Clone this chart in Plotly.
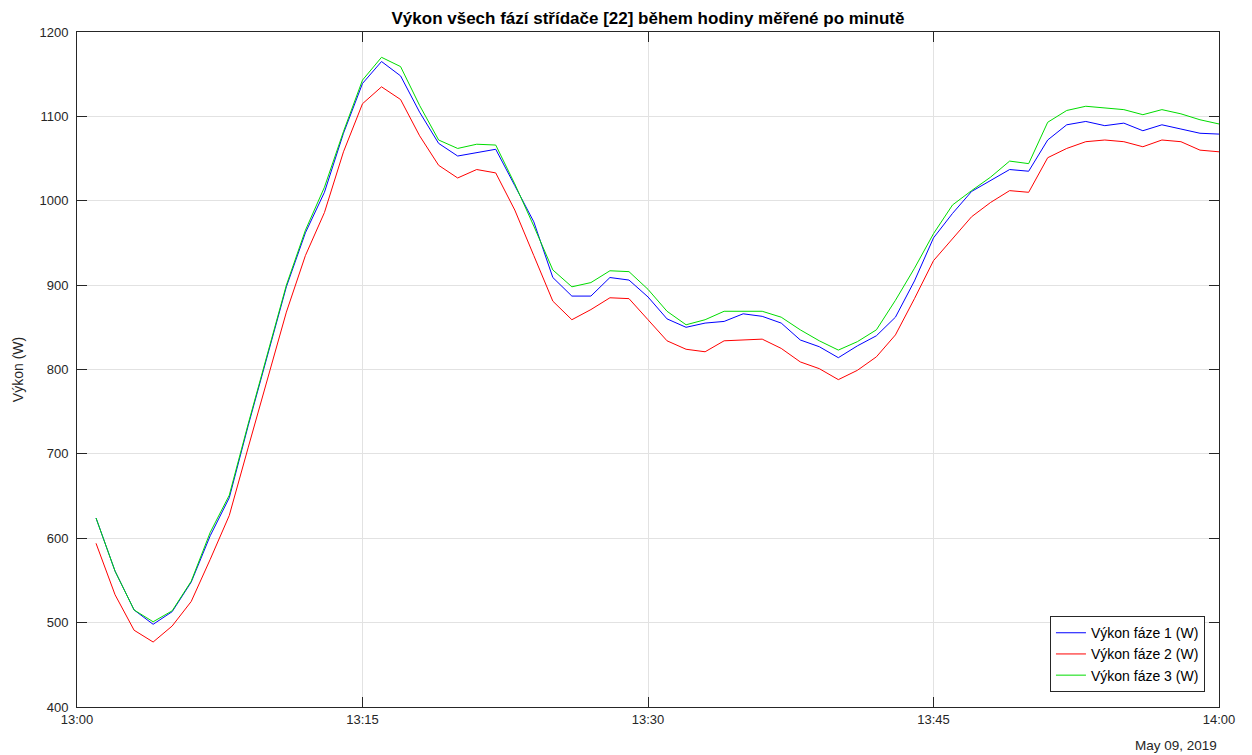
import plotly.graph_objects as go

minutes = [
    "13:01", "13:02", "13:03", "13:04", "13:05", "13:06", "13:07", "13:08", "13:09", "13:10",
    "13:11", "13:12", "13:13", "13:14", "13:15", "13:16", "13:17", "13:18", "13:19", "13:20",
    "13:21", "13:22", "13:23", "13:24", "13:25", "13:26", "13:27", "13:28", "13:29", "13:30",
    "13:31", "13:32", "13:33", "13:34", "13:35", "13:36", "13:37", "13:38", "13:39", "13:40",
    "13:41", "13:42", "13:43", "13:44", "13:45", "13:46", "13:47", "13:48", "13:49", "13:50",
    "13:51", "13:52", "13:53", "13:54", "13:55", "13:56", "13:57", "13:58", "13:59", "14:00",
]
day = "2019-05-09"

faze1 = [624, 561, 515, 498, 513, 548, 603, 648, 734, 816,
         898, 962, 1010, 1080, 1139, 1165, 1148, 1105, 1068, 1053,
         1057, 1061, 1018, 975, 909, 887, 887, 909, 906, 886,
         860, 850, 855, 857, 866, 863, 855, 835, 827, 814,
         828, 840, 862, 905, 956, 985, 1011, 1024, 1037, 1035,
         1072, 1090, 1094, 1089, 1092, 1083, 1090, 1085, 1080, 1079]
faze2 = [594, 533, 491, 477, 496, 525, 575, 627, 708, 788,
         868, 935, 986, 1058, 1115, 1135, 1120, 1077, 1042, 1027,
         1037, 1033, 989, 935, 881, 859, 871, 885, 884, 859,
         834, 824, 821, 834, 835, 836, 825, 809, 801, 788,
         799, 815, 841, 884, 929, 955, 981, 998, 1012, 1010,
         1051, 1062, 1070, 1072, 1070, 1064, 1072, 1070, 1060, 1058]
faze3 = [624, 561, 515, 501, 514, 549, 607, 651, 736, 817,
         900, 965, 1016, 1082, 1143, 1170, 1159, 1113, 1072, 1062,
         1067, 1066, 1020, 970, 918, 898, 903, 917, 916, 895,
         869, 853, 859, 869, 869, 869, 862, 847, 834, 823,
         833, 847, 882, 920, 961, 995, 1012, 1028, 1047, 1044,
         1093, 1107, 1112, 1110, 1108, 1102, 1108, 1103, 1096, 1091]

series_names = ["Výkon fáze 1 (W)", "Výkon fáze 2 (W)", "Výkon fáze 3 (W)"]
series_colors = ["rgb(0,0,255)", "rgb(255,0,0)", "rgb(0,220,0)"]
tick_labels = ["13:00", "13:15", "13:30", "13:45", "14:00"]
title_text = "Výkon všech fází střídače [22] během hodiny měřené po minutě"
y_title = "Výkon (W)"
date_label = "May 09, 2019"

times = [f"{day} {m}:00" for m in minutes]

font_family = "Liberation Sans, Arial, sans-serif"
axis_color = "#262626"
W, H = 1244, 747  # page body adds an 8px offset

fig = go.Figure()
for name, vals, col in zip(series_names, [faze1, faze2, faze3], series_colors):
    fig.add_trace(go.Scatter(x=times, y=vals, mode="lines", name=name,
                             line=dict(color=col, width=1)))

fig.update_layout(
    width=W, height=H,
    margin=dict(l=69, r=33, t=24, b=48, autoexpand=False),
    paper_bgcolor="white", plot_bgcolor="white",
    font=dict(family=font_family, size=13, color=axis_color),
    title=dict(text="<b>" + title_text + "</b>", x=0.5, xref="paper",
               y=1 - 10 / H, yref="container", yanchor="middle",
               font=dict(size=17, color="black", family=font_family)),
    legend=dict(x=0.9877, xanchor="right", y=0.022, yanchor="bottom",
                bgcolor="white", bordercolor=axis_color, borderwidth=1,
                font=dict(size=14, color="black"), tracegroupgap=0,
                itemwidth=30),
    showlegend=True,
)

fig.update_xaxes(
    range=[f"{day} 13:00:00", f"{day} 14:00:00"],
    tickvals=[f"{day} {t}:00" for t in tick_labels],
    ticktext=tick_labels,
    showgrid=True, gridcolor="#e2e2e2", gridwidth=1,
    showline=True, linecolor=axis_color, linewidth=1, mirror="ticks",
    ticks="inside", ticklen=10, tickcolor=axis_color, tickwidth=1,
    tickfont=dict(size=13, color=axis_color), zeroline=False,
)
fig.update_yaxes(
    range=[400, 1200], dtick=100, tick0=400,
    showgrid=True, gridcolor="#e2e2e2", gridwidth=1,
    showline=True, linecolor=axis_color, linewidth=1, mirror="ticks",
    ticks="inside", ticklen=10, tickcolor=axis_color, tickwidth=1,
    tickfont=dict(size=13, color=axis_color), zeroline=False,
    ticklabelstandoff=5,
    title=dict(text=y_title, font=dict(size=14, color=axis_color), standoff=12),
)

fig.add_annotation(text=date_label, xref="paper", yref="paper", x=1.0, y=0,
                   xanchor="right", yanchor="top", yshift=-29, xshift=0, showarrow=False,
                   font=dict(size=13.5, color=axis_color))

fig.write_html("out.html")
